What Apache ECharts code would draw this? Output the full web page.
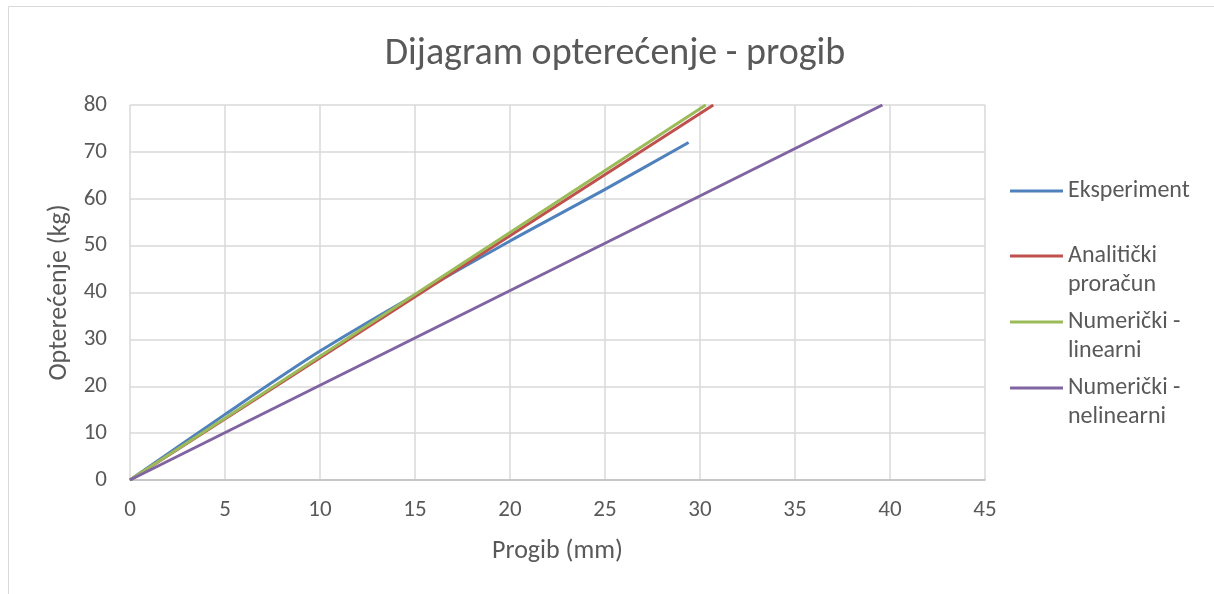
<!DOCTYPE html>
<html>
<head>
<meta charset="utf-8">
<script src="https://cdn.jsdelivr.net/npm/echarts@6/dist/echarts.min.js"></script>
<style>
html,body{margin:0;padding:0;background:#fff;}
#c{width:1214px;height:594px;}
</style>
</head>
<body>
<div id="c"></div>
<script>
// Data
const titleText = 'Dijagram opterećenje - progib';
const xAxisName = 'Progib (mm)';
const yAxisName = 'Opterećenje (kg)';
const seriesNames = ['Eksperiment', 'Analitički\nproračun', 'Numerički -\nlinearni', 'Numerički -\nnelinearni'];
const eksperimentX = [0, 5, 10, 15, 20, 25, 29.4];
const eksperimentY = [0, 14, 27.5, 39.5, 51, 62, 72];
const analitickiX = [0, 30.7];
const analitickiY = [0, 80];
const linearniX = [0, 30.3];
const linearniY = [0, 80];
const nelinearniX = [0, 39.6];
const nelinearniY = [0, 80];

const colors = ['#4F81BD', '#C0504D', '#9BBB59', '#8064A2'];
const FONT = 'Carlito, Lato, sans-serif';
const TXT = '#595959';

function pairs(xs, ys) { return xs.map((x, i) => [x, ys[i]]); }
const allData = [
  pairs(eksperimentX, eksperimentY),
  pairs(analitickiX, analitickiY),
  pairs(linearniX, linearniY),
  pairs(nelinearniX, nelinearniY)
];

const LH = 29;
const legendCenters = [191, 256, 322, 388];
const legends = seriesNames.map((n, i) => {
  const twoLine = n.indexOf('\n') >= 0;
  return {
    orient: 'vertical',
    left: 1010,
    padding: 0,
    top: legendCenters[i] - 1.5 - (LH / 2 - 1.5),
    icon: twoLine ? 'path://M0,0L53,0L53,3L0,3Z M0,' + (LH + 3) + 'L0.5,' + (LH + 3) : 'rect',
    itemWidth: 53,
    itemHeight: twoLine ? LH + 3 : 3,
    data: [n],
    selectedMode: false,
    textStyle: { fontFamily: FONT, fontSize: 24, color: TXT, lineHeight: LH }
  };
});

const chart = echarts.init(document.getElementById('c'));
chart.setOption({
  animation: false,
  backgroundColor: '#fff',
  graphic: [{
    type: 'rect', shape: { x: 8.5, y: 6.5, width: 1220, height: 600 },
    style: { fill: 'none', stroke: '#d9d9d9', lineWidth: 1 }, z: -1
  }],
  title: {
    text: titleText, left: 610, textAlign: 'center', top: 30,
    textStyle: { fontFamily: FONT, fontSize: 38, fontWeight: 'normal', color: TXT }
  },
  legend: legends,
  grid: { left: 130, right: 229, top: 105, bottom: 114 },
  xAxis: {
    type: 'value', min: 0, max: 45, interval: 5,
    name: xAxisName, nameLocation: 'middle', nameGap: 58,
    nameTextStyle: { fontFamily: FONT, fontSize: 26, color: TXT },
    axisLine: { show: true, lineStyle: { color: '#bfbfbf', width: 1.5 } },
    axisTick: { show: false },
    axisLabel: { fontFamily: FONT, fontSize: 23, color: TXT, margin: 19 },
    splitLine: { show: true, lineStyle: { color: '#d9d9d9', width: 1.5 } }
  },
  yAxis: {
    type: 'value', min: 0, max: 80, interval: 10,
    name: yAxisName, nameLocation: 'middle', nameGap: 57, nameRotate: 90,
    nameTextStyle: { fontFamily: FONT, fontSize: 26, color: TXT },
    axisLine: { show: false },
    axisTick: { show: false },
    axisLabel: { fontFamily: FONT, fontSize: 23, color: TXT, margin: 23 },
    splitLine: { show: true, lineStyle: { color: '#d9d9d9', width: 1.5 } }
  },
  series: seriesNames.map((n, i) => ({
    name: n, type: 'line', data: allData[i], showSymbol: false, symbol: 'none',
    smooth: i === 0 ? 0.3 : false,
    lineStyle: { color: colors[i], width: 3 },
    itemStyle: { color: colors[i] },
    z: 2 + i
  }))
});
</script>
</body>
</html>
